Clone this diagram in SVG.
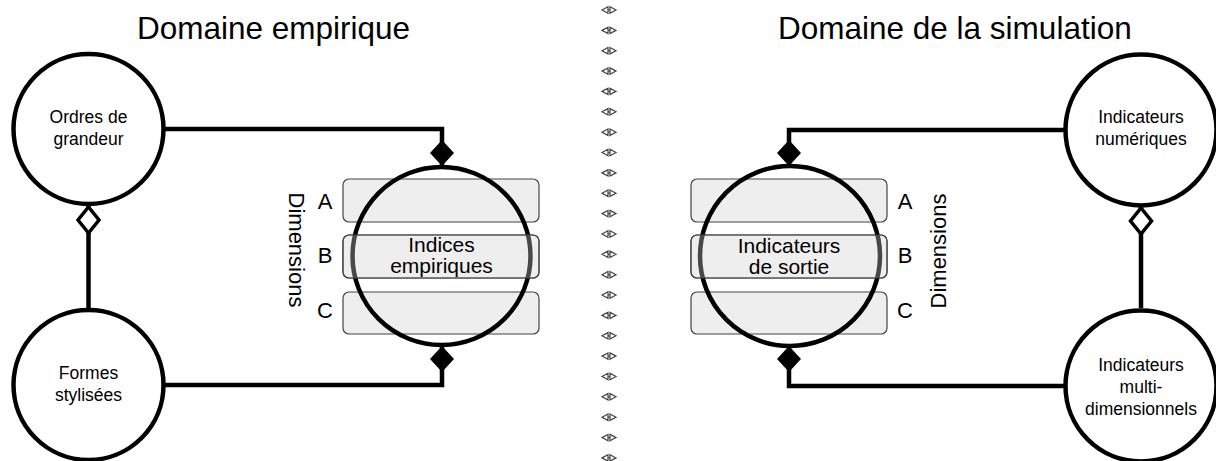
<svg xmlns="http://www.w3.org/2000/svg" xmlns:xlink="http://www.w3.org/1999/xlink" width="1216" height="461" viewBox="0 0 1216 461">
<style>
text{font-family:"Liberation Sans",Arial,sans-serif;fill:#000}
.title{font-size:31.5px}
.nt{font-size:17.5px;text-anchor:middle}
.ct{font-size:21px;text-anchor:middle}
.lab{font-size:22px;text-anchor:middle}
.node{fill:#fff;stroke:#000;stroke-width:4.5}
.big{fill:none;stroke:#000;stroke-width:4.5}
.dim{fill:#eeeeee;stroke:#444;stroke-width:1.2}
.dimov{fill:#eeeeee;fill-opacity:0.3;stroke:#444;stroke-width:1.2}
.conn{fill:none;stroke:#000;stroke-width:4.5}
.sep{fill:#fff;stroke:#444;stroke-width:1.2}
</style>
<defs>
<marker id="dFill" markerUnits="userSpaceOnUse" markerWidth="28" markerHeight="25" viewBox="0 0 28 25" refX="27" refY="12.5" orient="auto">
<path d="M1,12.5 L14,0.5 L27,12.5 L14,24.5 Z" fill="#000"/>
</marker>
<marker id="dHollow" markerUnits="userSpaceOnUse" markerWidth="30" markerHeight="26" viewBox="0 0 30 26" refX="29" refY="13" orient="auto">
<path d="M2,13 L15,2.5 L28,13 L15,23.5 Z" fill="#fff" stroke="#000" stroke-width="3.5"/>
</marker>
<g id="sepGlyph">
<path class="sep" d="M602,0 L608,-3.2 L608,3.2 Z M608,0 H610 M610,-3.2 L616,0 L610,3.2 Z"/>
</g>
</defs>
<rect width="1216" height="461" fill="#fff"/>

<text class="title" x="137" y="39">Domaine empirique</text>
<text class="title" x="778" y="39">Domaine de la simulation</text>

<g id="separator">
<use xlink:href="#sepGlyph" transform="translate(0,10)"/>
<use xlink:href="#sepGlyph" transform="translate(0,30.4)"/>
<use xlink:href="#sepGlyph" transform="translate(0,50.7)"/>
<use xlink:href="#sepGlyph" transform="translate(0,71.1)"/>
<use xlink:href="#sepGlyph" transform="translate(0,91.4)"/>
<use xlink:href="#sepGlyph" transform="translate(0,111.8)"/>
<use xlink:href="#sepGlyph" transform="translate(0,132.2)"/>
<use xlink:href="#sepGlyph" transform="translate(0,152.5)"/>
<use xlink:href="#sepGlyph" transform="translate(0,172.9)"/>
<use xlink:href="#sepGlyph" transform="translate(0,193.2)"/>
<use xlink:href="#sepGlyph" transform="translate(0,213.6)"/>
<use xlink:href="#sepGlyph" transform="translate(0,234)"/>
<use xlink:href="#sepGlyph" transform="translate(0,254.3)"/>
<use xlink:href="#sepGlyph" transform="translate(0,274.7)"/>
<use xlink:href="#sepGlyph" transform="translate(0,295)"/>
<use xlink:href="#sepGlyph" transform="translate(0,315.4)"/>
<use xlink:href="#sepGlyph" transform="translate(0,335.8)"/>
<use xlink:href="#sepGlyph" transform="translate(0,356.1)"/>
<use xlink:href="#sepGlyph" transform="translate(0,376.5)"/>
<use xlink:href="#sepGlyph" transform="translate(0,396.8)"/>
<use xlink:href="#sepGlyph" transform="translate(0,417.2)"/>
<use xlink:href="#sepGlyph" transform="translate(0,437.6)"/>
<use xlink:href="#sepGlyph" transform="translate(0,457.9)"/>
</g>

<g id="connectors">
<path class="conn" d="M163,129 H442 V166" marker-end="url(#dFill)"/>
<path class="conn" d="M163,385 H442 V346" marker-end="url(#dFill)"/>
<path class="conn" d="M88.5,308 V206" marker-end="url(#dHollow)"/>
<path class="conn" d="M1064,130 H789 V166" marker-end="url(#dFill)"/>
<path class="conn" d="M1064,386 H789 V346" marker-end="url(#dFill)"/>
<path class="conn" d="M1141,308 V207" marker-end="url(#dHollow)"/>
</g>

<g id="ordres">
<circle class="node" cx="88.5" cy="129" r="75"/>
<text class="nt" x="88.5" y="123">Ordres de</text>
<text class="nt" x="88.5" y="145">grandeur</text>
</g>
<g id="formes">
<circle class="node" cx="88.5" cy="385" r="75"/>
<text class="nt" x="88.5" y="379">Formes</text>
<text class="nt" x="88.5" y="401">stylisées</text>
</g>

<g id="indices">
<rect class="dim" x="343" y="179" width="196" height="43" rx="6"/>
<rect class="dim" x="343" y="235" width="196" height="43" rx="6"/>
<rect class="dim" x="343" y="292" width="196" height="42" rx="6"/>
<circle class="big" cx="441.5" cy="256" r="89"/>
<rect class="dimov" x="343" y="235" width="196" height="43" rx="6"/>
<text class="ct" x="441.5" y="252">Indices</text>
<text class="ct" x="441.5" y="273">empiriques</text>
<text class="lab" x="325" y="209">A</text>
<text class="lab" x="325" y="263">B</text>
<text class="lab" x="325" y="318">C</text>
<text class="lab" transform="translate(289,250) rotate(90)">Dimensions</text>
</g>

<g id="sortie">
<rect class="dim" x="691" y="179" width="196" height="43" rx="6"/>
<rect class="dim" x="691" y="235" width="196" height="43" rx="6"/>
<rect class="dim" x="691" y="292" width="196" height="42" rx="6"/>
<circle class="big" cx="790" cy="256" r="90"/>
<rect class="dimov" x="691" y="235" width="196" height="43" rx="6"/>
<text class="ct" x="789" y="253">Indicateurs</text>
<text class="ct" x="789" y="274">de sortie</text>
<text class="lab" x="905" y="209">A</text>
<text class="lab" x="905" y="263">B</text>
<text class="lab" x="905" y="318">C</text>
<text class="lab" transform="translate(946,251) rotate(-90)">Dimensions</text>
</g>

<g id="numeriques">
<circle class="node" cx="1141" cy="130" r="75.5"/>
<text class="nt" x="1141" y="123">Indicateurs</text>
<text class="nt" x="1141" y="145">numériques</text>
</g>
<g id="multi">
<circle class="node" cx="1141" cy="386" r="75.5"/>
<text class="nt" x="1141" y="371">Indicateurs</text>
<text class="nt" x="1141" y="393">multi-</text>
<text class="nt" x="1141" y="415">dimensionnels</text>
</g>
</svg>
